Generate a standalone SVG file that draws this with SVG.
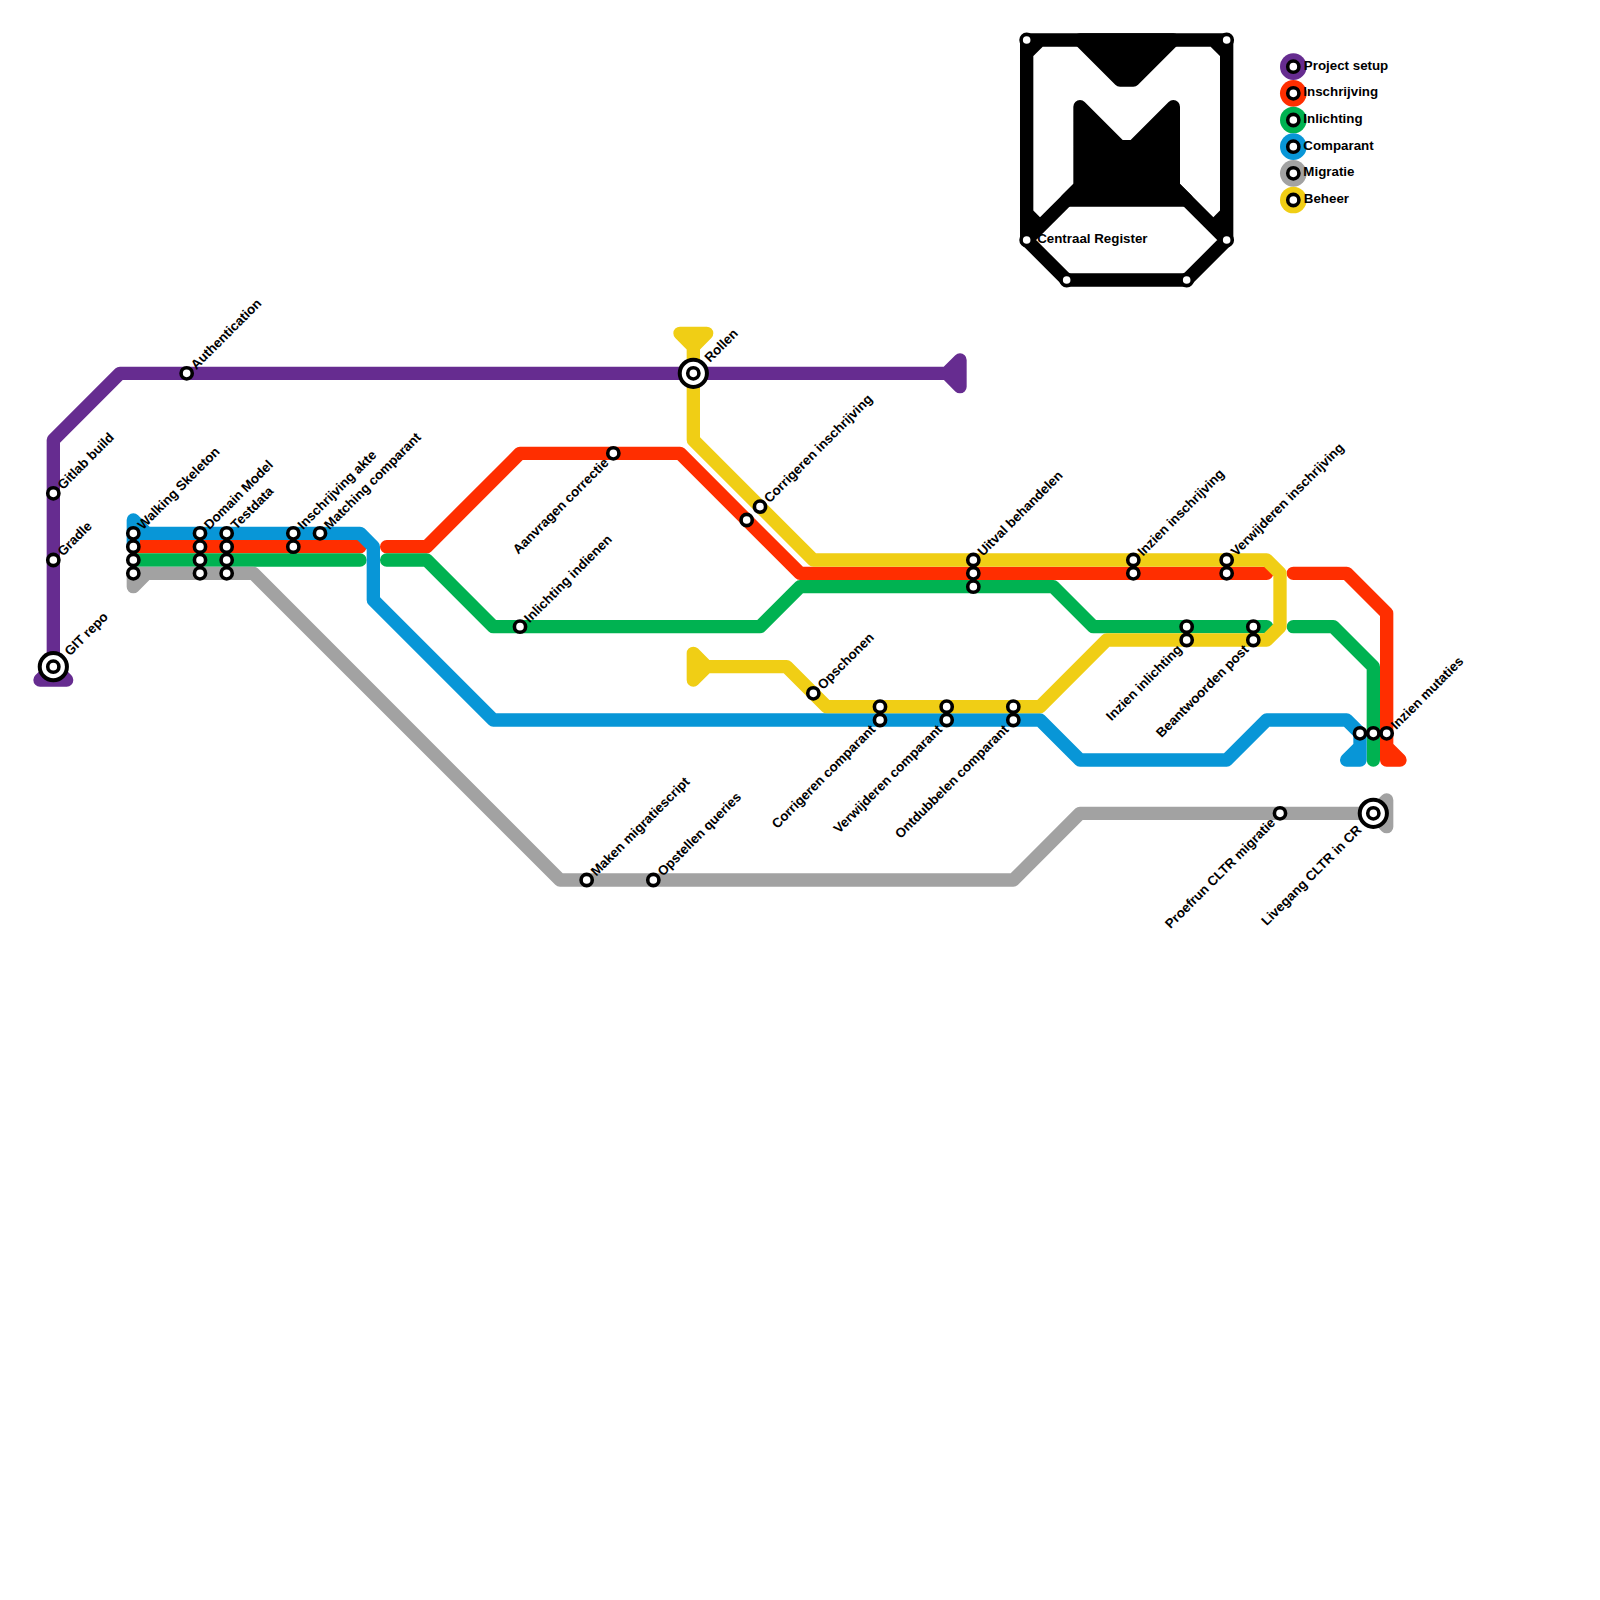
<svg xmlns="http://www.w3.org/2000/svg" width="1600" height="1600" viewBox="0 0 1600 1600">
<style>
text{font-family:"Liberation Sans",Arial,sans-serif;font-weight:700;font-size:13.33px;fill:#000}
.e{text-anchor:end}
#connectors path{fill:none;stroke-width:1;stroke-linecap:round;stroke-linejoin:round}
.purple{stroke:#662c90}.red{stroke:#ff2e00}.green{stroke:#00b251}.blue{stroke:#0896d7}.gray{stroke:#a2a2a2}.yellow{stroke:#f0ce15}.black{stroke:#000}
#connectors path.bf{fill:#000}
.st{fill:#fff;stroke:#000;stroke-width:3.6}
.bg{fill:#fff;stroke:#000;stroke-width:4}
.bi{fill:#fff;stroke:#000;stroke-width:3.6}
</style>
<rect width="1600" height="1600" fill="#fff"/>
<g id="connectors" transform="scale(13.33333)">
<path class="purple" d="M4 50V33L9 28H71M71 28L72 27V29ZM3 51H5L4 50Z"/>
<path class="red" d="M10 41H27M29 41H32L39 34H51L60 43H95M97 43H101L104 46V57H105L104 56"/>
<path class="green" d="M10 42H27M29 42H32L37 47H57L60 44H79L82 47H95M97 47H100L103 50V57"/>
<path class="blue" d="M11 40L10 39V41M10 40H27L28 41V45L37 54H78L81 57H92L95 54H101L102 55V57H101L102 56"/>
<path class="gray" d="M10 43V44L11 43M10 43H19L42 66H76L81 61H103M103 61L104 60V62Z"/>
<path class="yellow" d="M51 25H53L52 26ZM52 26V33L61 42H95L96 43V47L95 48H83L78 53H62L59 50H53L52 49V51L53 50"/>
<path class="black" d="M77 3H92V18L89 21H80L77 18ZM77 4L78 3M91 3L92 4M77 16L78 17M92 16L91 17M77 18L81 14M92 18L88 14"/>
<path class="black bf" d="M81 3L84 6H85L88 3Z"/>
<path class="black bf" d="M81 8L84 11H85L88 8V14L89 15H80L81 14Z"/>
</g>
<g id="nodes">
<g id="n-gitlab" transform="translate(53.33,493.33)"><circle class="st" r="5.6"/><text transform="rotate(-45)" x="9" y="4.5">Gitlab build</text></g>
<g id="n-gradle" transform="translate(53.33,560)"><circle class="st" r="5.6"/><text transform="rotate(-45)" x="9" y="4.5">Gradle</text></g>
<g id="n-git" transform="translate(53.33,666.67)"><circle class="bg" r="13.6"/><circle class="bi" r="5.6"/><text transform="rotate(-45)" x="19" y="4.5">GIT repo</text></g>
<g id="n-auth" transform="translate(186.67,373.33)"><circle class="st" r="5.6"/><text transform="rotate(-45)" x="9" y="4.5">Authentication</text></g>
<g id="n-walking" transform="translate(133.33,533.33)"><circle class="st" r="5.6"/><circle class="st" cy="13.33" r="5.6"/><circle class="st" cy="26.67" r="5.6"/><circle class="st" cy="40" r="5.6"/><text transform="rotate(-45)" x="9" y="4.5">Walking Skeleton</text></g>
<g id="n-domain" transform="translate(200,533.33)"><circle class="st" r="5.6"/><circle class="st" cy="13.33" r="5.6"/><circle class="st" cy="26.67" r="5.6"/><circle class="st" cy="40" r="5.6"/><text transform="rotate(-45)" x="9" y="4.5">Domain Model</text></g>
<g id="n-testdata" transform="translate(226.67,533.33)"><circle class="st" r="5.6"/><circle class="st" cy="13.33" r="5.6"/><circle class="st" cy="26.67" r="5.6"/><circle class="st" cy="40" r="5.6"/><text transform="rotate(-45)" x="9" y="4.5">Testdata</text></g>
<g id="n-akte" transform="translate(293.33,533.33)"><circle class="st" r="5.6"/><circle class="st" cy="13.33" r="5.6"/><text transform="rotate(-45)" x="9" y="4.5">Inschrijving akte</text></g>
<g id="n-matching" transform="translate(320,533.33)"><circle class="st" r="5.6"/><text transform="rotate(-45)" x="9" y="4.5">Matching comparant</text></g>
<g id="n-aanvragen" transform="translate(613.33,453.33)"><circle class="st" r="5.6"/><text class="e" transform="rotate(-45)" x="-10" y="4.5">Aanvragen correctie</text></g>
<g id="n-indienen" transform="translate(520,626.67)"><circle class="st" r="5.6"/><text transform="rotate(-45)" x="9" y="4.5">Inlichting indienen</text></g>
<g id="n-rollen" transform="translate(693.33,373.33)"><circle class="bg" r="13.6"/><circle class="bi" r="5.6"/><text transform="rotate(-45)" x="19" y="4.5">Rollen</text></g>
<g id="n-corr-unnamed" transform="translate(746.67,520)"><circle class="st" r="5.6"/></g>
<g id="n-corr-inschr" transform="translate(760,506.67)"><circle class="st" r="5.6"/><text transform="rotate(-45)" x="9" y="4.5">Corrigeren inschrijving</text></g>
<g id="n-opschonen" transform="translate(813.33,693.33)"><circle class="st" r="5.6"/><text transform="rotate(-45)" x="9" y="4.5">Opschonen</text></g>
<g id="n-corr-comp" transform="translate(880,720)"><circle class="st" r="5.6"/><circle class="st" cy="-13.33" r="5.6"/><text class="e" transform="rotate(-45)" x="-10" y="4.5">Corrigeren comparant</text></g>
<g id="n-verw-comp" transform="translate(946.67,720)"><circle class="st" r="5.6"/><circle class="st" cy="-13.33" r="5.6"/><text class="e" transform="rotate(-45)" x="-10" y="4.5">Verwijderen comparant</text></g>
<g id="n-ontd-comp" transform="translate(1013.33,720)"><circle class="st" r="5.6"/><circle class="st" cy="-13.33" r="5.6"/><text class="e" transform="rotate(-45)" x="-10" y="4.5">Ontdubbelen comparant</text></g>
<g id="n-uitval" transform="translate(973.33,560)"><circle class="st" r="5.6"/><circle class="st" cy="13.33" r="5.6"/><circle class="st" cy="26.67" r="5.6"/><text transform="rotate(-45)" x="9" y="4.5">Uitval behandelen</text></g>
<g id="n-inz-inschr" transform="translate(1133.33,560)"><circle class="st" r="5.6"/><circle class="st" cy="13.33" r="5.6"/><text transform="rotate(-45)" x="9" y="4.5">Inzien inschrijving</text></g>
<g id="n-inz-inl" transform="translate(1186.67,640)"><circle class="st" r="5.6"/><circle class="st" cy="-13.33" r="5.6"/><text class="e" transform="rotate(-45)" x="-10" y="4.5">Inzien inlichting</text></g>
<g id="n-verw-inschr" transform="translate(1226.67,560)"><circle class="st" r="5.6"/><circle class="st" cy="13.33" r="5.6"/><text transform="rotate(-45)" x="9" y="4.5">Verwijderen inschrijving</text></g>
<g id="n-beant" transform="translate(1253.33,640)"><circle class="st" r="5.6"/><circle class="st" cy="-13.33" r="5.6"/><text class="e" transform="rotate(-45)" x="-10" y="4.5">Beantwoorden post</text></g>
<g id="n-maken" transform="translate(586.67,880)"><circle class="st" r="5.6"/><text transform="rotate(-45)" x="9" y="4.5">Maken migratiescript</text></g>
<g id="n-opstellen" transform="translate(653.33,880)"><circle class="st" r="5.6"/><text transform="rotate(-45)" x="9" y="4.5">Opstellen queries</text></g>
<g id="n-proefrun" transform="translate(1280,813.33)"><circle class="st" r="5.6"/><text class="e" transform="rotate(-45)" x="-10" y="4.5">Proefrun CLTR migratie</text></g>
<g id="n-livegang" transform="translate(1373.33,813.33)"><circle class="bg" r="13.6"/><circle class="bi" r="5.6"/><text class="e" transform="rotate(-45)" x="-20" y="4.5">Livegang CLTR in CR</text></g>
<g id="n-mutaties" transform="translate(1386.67,733.33)"><circle class="st" r="5.6"/><circle class="st" cx="-13.33" r="5.6"/><circle class="st" cx="-26.67" r="5.6"/><text transform="rotate(-45)" x="9" y="4.5">Inzien mutaties</text></g>
<g id="n-cr1" transform="translate(1026.67,240)"><circle class="st" r="5.6"/><text x="10.5" y="3">Centraal Register</text></g>
<g id="n-cr2"><circle class="st" cx="1026.67" cy="40" r="5.6"/></g>
<g id="n-cr3"><circle class="st" cx="1226.67" cy="40" r="5.6"/></g>
<g id="n-cr4"><circle class="st" cx="1226.67" cy="240" r="5.6"/></g>
<g id="n-cr5"><circle class="st" cx="1066.67" cy="280" r="5.6"/></g>
<g id="n-cr6"><circle class="st" cx="1186.67" cy="280" r="5.6"/></g>
</g>
<g id="legend">
<g id="l-setup" transform="translate(1293.33,66.67)"><circle r="13.33" fill="#662c90"/><circle class="st" r="5.6"/><text x="10.5" y="3">Project setup</text></g>
<g id="l-inschr" transform="translate(1293.33,93.33)"><circle r="13.33" fill="#ff2e00"/><circle class="st" r="5.6"/><text x="10" y="3">Inschrijving</text></g>
<g id="l-inl" transform="translate(1293.33,120)"><circle r="13.33" fill="#00b251"/><circle class="st" r="5.6"/><text x="10" y="3">Inlichting</text></g>
<g id="l-comp" transform="translate(1293.33,146.67)"><circle r="13.33" fill="#0896d7"/><circle class="st" r="5.6"/><text x="10" y="3">Comparant</text></g>
<g id="l-mig" transform="translate(1293.33,173.33)"><circle r="13.33" fill="#a2a2a2"/><circle class="st" r="5.6"/><text x="10" y="3">Migratie</text></g>
<g id="l-beh" transform="translate(1293.33,200)"><circle r="13.33" fill="#f0ce15"/><circle class="st" r="5.6"/><text x="10.5" y="3">Beheer</text></g>
</g>
</svg>
